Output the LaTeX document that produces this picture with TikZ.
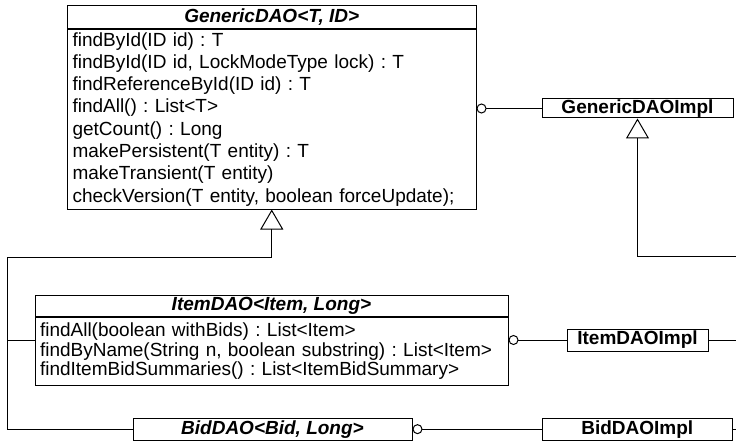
\documentclass[tikz,border=0pt]{standalone}
\usepackage{fontspec}
\setmainfont{Liberation Sans}
\usetikzlibrary{arrows.meta, positioning}

\tikzset{
  umltitle/.style={draw, line width=1pt, inner sep=0pt, font=\fontsize{19}{22}\selectfont\bfseries\itshape},
  umlbody/.style={draw, line width=1pt, inner xsep=5pt, inner ysep=0pt, align=left},
  umlimpl/.style={draw, line width=1pt, inner sep=0pt, font=\fontsize{19}{22}\selectfont\bfseries},
  link/.style={line width=1pt},
  realize/.style={link, -{Circle[open, length=10pt]}},
  extends/.style={link, -{Triangle[open, length=20pt, width=23pt]}},
}

\begin{document}
\frenchspacing
\begin{tikzpicture}[x=1pt, y=-1pt]
  \useasboundingbox (0,0) rectangle (736,441);

  % generic interface
  \node[umltitle, minimum width=408.5pt, minimum height=22.3pt] (gtitle) at (271.75,17.15) {GenericDAO<T, ID>};
  \node[umlbody, below=0pt of gtitle, minimum width=408.5pt, minimum height=179.7pt, text width=398.5pt,
        font=\fontsize{19}{22.3}\selectfont] (gbody) {findById(ID id) : T\\
    findById(ID id, LockModeType lock) : T\\
    findReferenceById(ID id) : T\\
    findAll() : List<T>\\
    getCount() : Long\\
    makePersistent(T entity) : T\\
    makeTransient(T entity)\\
    checkVersion(T entity, boolean forceUpdate);};
  \node[umlimpl, minimum width=191pt, minimum height=19pt] (gimpl) at (637.5,108.5) {GenericDAOImpl};

  % item interface
  \node[umltitle, minimum width=473pt, minimum height=21.7pt] (ititle) at (271.5,305.85) {ItemDAO<Item, Long>};
  \node[umlbody, below=0pt of ititle, minimum width=473pt, minimum height=67.3pt, text width=463pt,
        font=\fontsize{19}{19.6}\selectfont] (ibody) {findAll(boolean withBids) : List<Item>\\
    findByName(String n, boolean substring) : List<Item>\\
    findItemBidSummaries() : List<ItemBidSummary>};
  \node[umlimpl, minimum width=141pt, minimum height=22pt] (iimpl) at (637.5,340) {ItemDAOImpl};

  % bid interface
  \node[umltitle, minimum width=279pt, minimum height=21.7pt] (bid) at (272.5,429.15) {BidDAO<Bid, Long>};
  \node[umlimpl, minimum width=190.5pt, minimum height=21.7pt] (bimpl) at (637.25,429.15) {BidDAOImpl};

  % free ends
  \coordinate (trunk) at (7.5,257.3);
  \coordinate (gexit) at (736,256);
  \coordinate (iexit) at (736,340);
  \coordinate (bexit) at (736,429.15);

  % lollipops
  \draw[realize] (gimpl.west) -- (gimpl.west -| gbody.east);
  \draw[realize] (iimpl.west) -- (iimpl.west -| ibody.east);
  \draw[realize] (bimpl.west) -- (bid.east);

  % generalisation
  \draw[extends] (gexit) -| (gimpl.south);
  \draw[extends] (bid.west) -| (trunk) -| (gbody.south);
  \draw[link] (iimpl.west -| ibody.west) -- (iimpl.west -| trunk);
  \draw[link] (iimpl.east) -- (iexit);
  \draw[link] (bimpl.east) -- (bexit);
\end{tikzpicture}
\end{document}
